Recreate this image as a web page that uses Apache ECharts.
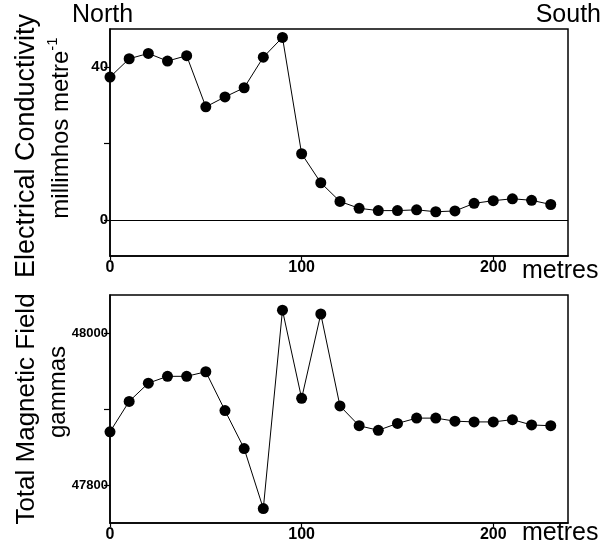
<!DOCTYPE html>
<html>
<head>
<meta charset="utf-8">
<script src="https://cdn.jsdelivr.net/npm/echarts@6/dist/echarts.min.js"></script>
<style>
html,body{margin:0;padding:0;background:#fff;}
#chart{width:615px;height:550px;}
</style>
</head>
<body>
<div id="chart"></div>
<script>
// Data
var distance = [0,10,20,30,40,50,60,70,80,90,100,110,120,130,140,150,160,170,180,190,200,210,220,230];
var conductivity = [37.4,42.2,43.6,41.6,43.0,29.6,32.2,34.6,42.6,47.8,17.3,9.7,4.8,3.0,2.4,2.4,2.6,2.1,2.3,4.3,5.0,5.5,5.1,4.0];
var magneticField = [47870,47910,47934,47943,47943,47949,47898,47848,47769,48030,47914,48025,47904,47878,47872,47881,47888,47888,47884,47883,47883,47886,47879,47878];
var xTicks = [0,100,200];
var condTicks = [0,20,40];
var condLabels = [0,40];
var magTicks = [47800,47900,48000];
var magLabels = [47800,48000];

var FONT = 'Liberation Sans, Arial, Helvetica, sans-serif';

function pairs(xs, ys){ return xs.map(function(x,i){ return [x, ys[i]]; }); }
function plain(v){ return String(v); }

function xAxisCfg(gi){
  return {
    type:'value', gridIndex:gi, min:0, max:239,
    axisLine:{show:true, onZero:false, lineStyle:{color:'#000', width:1.5}},
    axisTick:{show:true, length:4, customValues:xTicks, lineStyle:{color:'#000', width:1.2}},
    axisLabel:{show:true, customValues:xTicks, formatter:plain, color:'#000', fontFamily:FONT, fontWeight:'bold', fontSize:16, margin:4},
    splitLine:{show:false}
  };
}
function yAxisCfg(gi, min, max, ticks, labels, fs){
  return {
    type:'value', gridIndex:gi, min:min, max:max,
    axisLine:{show:true, onZero:false, lineStyle:{color:'#000', width:1.5}},
    axisTick:{show:true, length:6, customValues:ticks, lineStyle:{color:'#000', width:1.2}},
    axisLabel:{show:true, customValues:labels, formatter:plain, color:'#000', fontFamily:FONT, fontWeight:'bold', fontSize:fs, margin:2},
    splitLine:{show:false}
  };
}
function seriesCfg(gi, ys, extra){
  var s = {
    type:'line', xAxisIndex:gi, yAxisIndex:gi,
    data: pairs(distance, ys),
    symbol:'circle', symbolSize:11, showSymbol:true,
    itemStyle:{color:'#000'},
    lineStyle:{color:'#000', width:1},
    animation:false
  };
  for (var k in extra) s[k] = extra[k];
  return s;
}

var chart = echarts.init(document.getElementById('chart'), null, {renderer:'canvas'});
chart.setOption({
  animation:false,
  backgroundColor:'#fff',
  grid:[
    {left:110, top:29, width:458, height:227, show:true, borderColor:'#000', borderWidth:1.5, backgroundColor:'transparent'},
    {left:110, top:295, width:458, height:228, show:true, borderColor:'#000', borderWidth:1.5, backgroundColor:'transparent'}
  ],
  xAxis:[xAxisCfg(0), xAxisCfg(1)],
  yAxis:[
    yAxisCfg(0, -9.5, 50, condTicks, condLabels, 15),
    yAxisCfg(1, 47750, 48050, magTicks, magLabels, 13)
  ],
  series:[
    seriesCfg(0, conductivity, {
      markLine:{silent:true, symbol:['none','none'], label:{show:false},
        lineStyle:{color:'#000', type:'solid', width:1.2},
        data:[{yAxis:0}]}
    }),
    seriesCfg(1, magneticField, {})
  ],
  graphic:[
    {type:'text', x:72, y:15, style:{text:'North', font:'25px '+FONT, fill:'#000', textAlign:'left', textVerticalAlign:'middle'}},
    {type:'text', x:601, y:15, style:{text:'South', font:'25px '+FONT, fill:'#000', textAlign:'right', textVerticalAlign:'middle'}},
    {type:'text', x:522, y:271, style:{text:'metres', font:'25px '+FONT, fill:'#000', textAlign:'left', textVerticalAlign:'middle'}},
    {type:'text', x:522, y:533, style:{text:'metres', font:'25px '+FONT, fill:'#000', textAlign:'left', textVerticalAlign:'middle'}},
    {type:'text', x:27, y:146, rotation:Math.PI/2, style:{text:'Electrical Conductivity', font:'27px '+FONT, fill:'#000', textAlign:'center', textVerticalAlign:'middle'}},
    {type:'text', x:59, y:128, rotation:Math.PI/2, style:{
      text:'{a|millimhos metre}{s|-1}', fill:'#000', textAlign:'center', textVerticalAlign:'middle',
      rich:{a:{fontFamily:FONT, fontSize:24, fill:'#000', verticalAlign:'bottom', lineHeight:28},
            s:{fontFamily:FONT, fontSize:15, fill:'#000', verticalAlign:'top', lineHeight:28}}
    }},
    {type:'text', x:27, y:409, rotation:Math.PI/2, style:{text:'Total Magnetic Field', font:'26px '+FONT, fill:'#000', textAlign:'center', textVerticalAlign:'middle'}},
    {type:'text', x:58, y:392, rotation:Math.PI/2, style:{text:'gammas', font:'24px '+FONT, fill:'#000', textAlign:'center', textVerticalAlign:'middle'}}
  ]
});
</script>
</body>
</html>
